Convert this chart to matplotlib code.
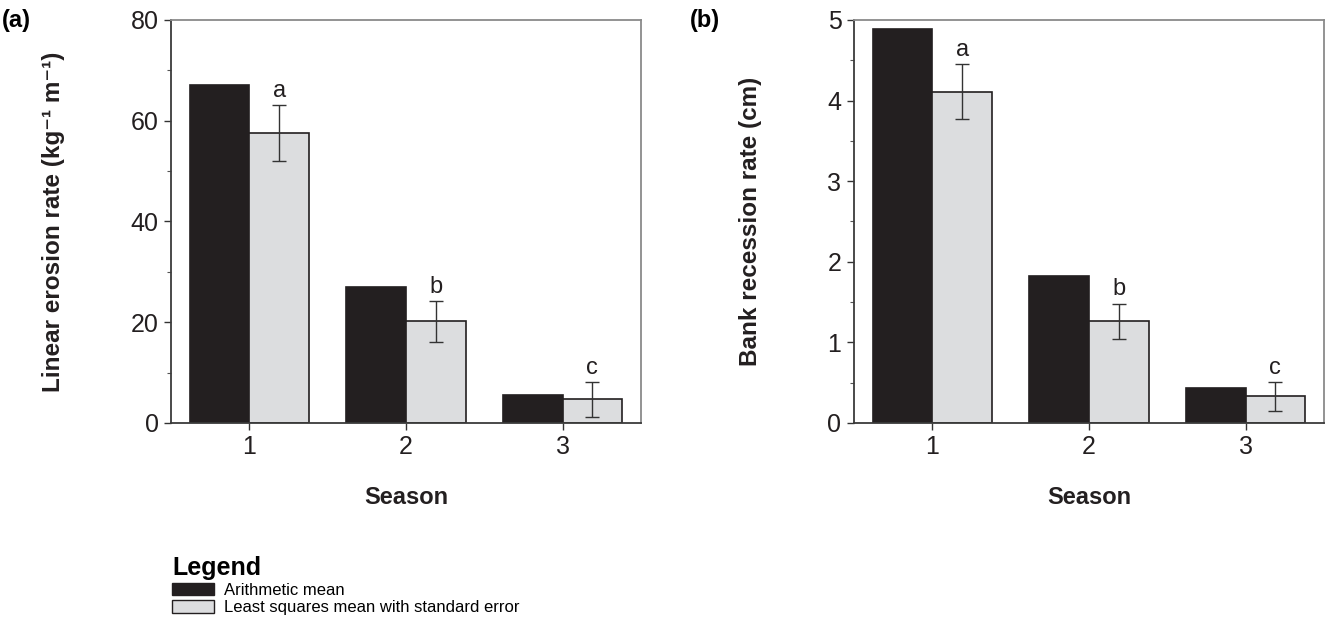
import matplotlib
matplotlib.use("Agg")
import matplotlib.pyplot as plt
import numpy as np
from matplotlib.patches import Patch
from matplotlib.ticker import MultipleLocator

plt.rcParams['font.family'] = ['Liberation Sans', 'DejaVu Sans']

seasons = ['1', '2', '3']
# Panel (a)
erosion_arith = [67.1, 26.9, 5.5]
erosion_lsm = [57.6, 20.2, 4.7]
erosion_se = [5.5, 4.1, 3.5]
erosion_letters = ['a', 'b', 'c']
# Panel (b)
recession_arith = [4.89, 1.83, 0.44]
recession_lsm = [4.11, 1.26, 0.33]
recession_se = [0.34, 0.22, 0.18]
recession_letters = ['a', 'b', 'c']

legend_labels = ['Arithmetic mean', 'Least squares mean with standard error']

BLACK = '#231f20'
GRAY = '#dcdddf'
W, H = 1327, 623
fig = plt.figure(figsize=(W / 100, H / 100), dpi=100)

def pos(l, r, t, b):
    return [l / W, 1 - b / H, (r - l) / W, (b - t) / H]

axa = fig.add_axes(pos(171, 641, 20, 423))
axb = fig.add_axes(pos(854, 1324, 20, 423))

def draw(ax, arith, lsm, se, letters, ymax, major, minor, ylabel, letter_off, ylpad):
    x = np.arange(1, len(seasons) + 1)
    w = 0.38
    ax.bar(x - w / 2, arith, width=w, color=BLACK, edgecolor=BLACK, linewidth=1.2, zorder=2)
    ax.bar(x + w / 2, lsm, width=w, color=GRAY, edgecolor=BLACK, linewidth=1.2, zorder=2)
    ax.errorbar(x + w / 2, lsm, yerr=se, fmt='none', ecolor='#333333',
                elinewidth=1.0, capsize=5, capthick=1.0, zorder=3)
    for xi, v, e, L in zip(x, lsm, se, letters):
        ax.text(xi + w / 2, v + e + letter_off, L, ha='center', va='bottom', fontsize=17,
                color='#231f20')
    ax.set_xlim(0.5, 3.5)
    ax.set_ylim(0, ymax)
    ax.set_xticks(x)
    ax.set_xticklabels(seasons)
    ax.yaxis.set_major_locator(MultipleLocator(major))
    ax.yaxis.set_minor_locator(MultipleLocator(minor))
    ax.tick_params(axis='both', which='major', direction='out', length=5, width=1,
                   labelsize=18, color='#333333', labelcolor='#231f20', pad=4)
    ax.tick_params(axis='y', which='minor', direction='out', length=3, width=0.8, color='#555555')
    ax.tick_params(axis='x', which='minor', bottom=False)
    for s in ['left', 'bottom']:
        ax.spines[s].set_color('#3a3a3a')
        ax.spines[s].set_linewidth(1.3)
    for s in ['top', 'right']:
        ax.spines[s].set_color('#8a8a8a')
        ax.spines[s].set_linewidth(1.3)
    ax.set_xlabel('Season', fontsize=17, fontweight='bold', labelpad=19, color='#231f20')
    ax.set_ylabel(ylabel, fontsize=17.5, fontweight='bold', labelpad=ylpad, color='#231f20')

draw(axa, erosion_arith, erosion_lsm, erosion_se, erosion_letters, 80, 20, 10,
     'Linear erosion rate (kg⁻¹ m⁻¹)', 0.6, 47)
draw(axb, recession_arith, recession_lsm, recession_se, recession_letters, 5, 1, 0.5,
     'Bank recession rate (cm)', 0.04, 47)

fig.text(2 / W, 1 - 20 / H, '(a)', fontsize=17, fontweight='bold', ha='left', va='center')
fig.text(690 / W, 1 - 20 / H, '(b)', fontsize=17, fontweight='bold', ha='left', va='center')

handles = [Patch(facecolor=BLACK, edgecolor=BLACK, linewidth=1.0),
           Patch(facecolor=GRAY, edgecolor=BLACK, linewidth=1.0)]
leg = fig.legend(handles, legend_labels, loc='upper left',
                 bbox_to_anchor=(172 / W, 1 - 556 / H), frameon=False, fontsize=12,
                 title='Legend', title_fontproperties={'weight': 'bold', 'size': 18},
                 alignment='left', handlelength=2.5, handleheight=0.75, handletextpad=0.65,
                 labelspacing=0.15, borderaxespad=0, borderpad=0)
leg._legend_box.sep = 2

fig.savefig('out.png', dpi=100)
